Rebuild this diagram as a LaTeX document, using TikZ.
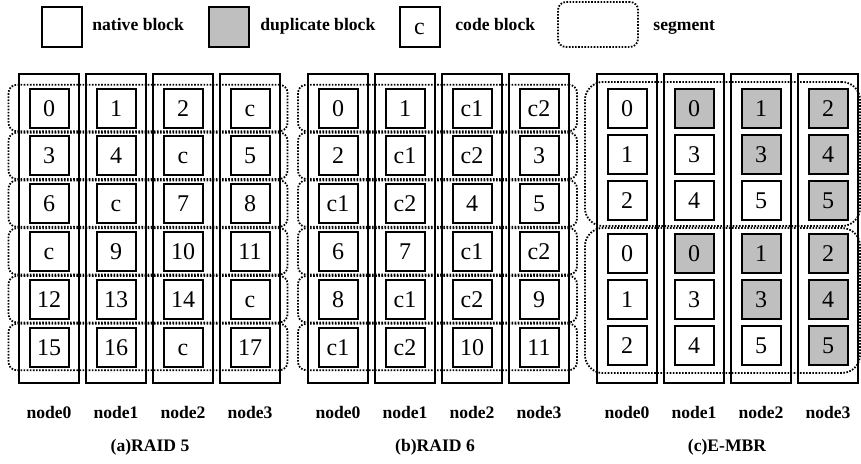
\documentclass[tikz,border=0pt]{standalone}
\usepackage{fontspec}
\setmainfont{Liberation Serif}
\usepackage{tikz}
\usetikzlibrary{positioning}

\tikzset{
  blk/.style={draw, line width=1pt, minimum size=19.5pt, inner sep=0pt, text height=8pt, text depth=0pt, font=\fontsize{12}{14}\selectfont},
  native/.style={blk},
  dup/.style={blk, fill=gray!50},
  disk/.style={draw, line width=1pt, minimum width=30pt, minimum height=154.5pt, inner sep=0pt},
  seg/.style={draw, line width=0.9pt, dash pattern=on 0.8pt off 0.75pt, rounded corners=4pt, inner sep=0pt},
  lbl/.style={font=\bfseries\fontsize{8.8}{10}\selectfont, inner sep=1pt},
}

\begin{document}
\begin{tikzpicture}[x=0.5pt, y=-0.5pt]
            \useasboundingbox (0,0) rectangle (861,463);

            % legend
            \node[native, minimum size=20pt] (leg-nat) at (62,26.5) {};
            \node[lbl, anchor=base west] (leg-nat-txt) at (90,30) {native block};
            \node[dup, minimum size=20pt] (leg-dup) at (228.5,26.5) {};
            \node[lbl, anchor=base west] (leg-dup-txt) at (258,30) {duplicate block};
            \node[native, minimum size=20pt] (leg-code) at (419.5,26.5) {c};
            \node[lbl, anchor=base west] (leg-code-txt) at (453,30) {code block};
            \node[seg, minimum width=40pt, minimum height=22.5pt] (leg-seg) at (598,24.5) {};
            \node[lbl, anchor=base west] (leg-seg-txt) at (651,30) {segment};

            % (a) RAID 5
            \foreach \col in {0,...,3}
              \node[disk] (a-disk\col) at (49+67*\col,228.5) {};
            \foreach \rw in {0,...,5}
              \node[seg, minimum width=139.5pt, minimum height=23.2pt] (a-seg\rw) at (148,108+47.8*\rw) {};
            \foreach \row [count=\rw from 0] in {{0,1,2,c},{3,4,c,5},{6,c,7,8},{c,9,10,11},{12,13,14,c},{15,16,c,17}}
              \foreach \lab [count=\col from 0] in \row
                \node[native] (a-\rw-\col) at (49+67*\col,108+47.8*\rw) {\lab};
            \foreach \col in {0,...,3}
              \node[lbl] (a-name\col) at (49+67*\col,412) {node\col};
            \node[lbl] (a-cap) at (150,447) {(a)RAID 5};

            % (b) RAID 6
            \foreach \col in {0,...,3}
              \node[disk] (b-disk\col) at (338+67*\col,228.5) {};
            \foreach \rw in {0,...,5}
              \node[seg, minimum width=139.5pt, minimum height=23.2pt] (b-seg\rw) at (437.5,108+47.8*\rw) {};
            \foreach \row [count=\rw from 0] in {{0,1,c1,c2},{2,c1,c2,3},{c1,c2,4,5},{6,7,c1,c2},{8,c1,c2,9},{c1,c2,10,11}}
              \foreach \lab [count=\col from 0] in \row
                \node[native] (b-\rw-\col) at (338+67*\col,108+47.8*\rw) {\lab};
            \foreach \col in {0,...,3}
              \node[lbl] (b-name\col) at (338+67*\col,412) {node\col};
            \node[lbl] (b-cap) at (435,447) {(b)RAID 6};

            % (c) E-MBR
            \foreach \col in {0,...,3}
              \node[disk] (c-disk\col) at (627+67*\col,228.5) {};
            \node[seg, rounded corners=9pt, minimum width=137.5pt, minimum height=72pt] (c-seg0) at (722.5,154) {};
            \node[seg, rounded corners=9pt, minimum width=137.5pt, minimum height=72.5pt] (c-seg1) at (722.5,300.5) {};
            \foreach \s in {0,1}
              \foreach \row [count=\rw from 0] in {{0/native,0/dup,1/dup,2/dup},{1/native,3/native,3/dup,4/dup},{2/native,4/native,5/native,5/dup}}
                \foreach \lab/\kind [count=\col from 0] in \row
                  \node[\kind] (c-\s-\rw-\col) at (627+67*\col,108+46*\rw+145.5*\s) {\lab};
            \foreach \col in {0,...,3}
              \node[lbl] (c-name\col) at (627+67*\col,412) {node\col};
            \node[lbl] (c-cap) at (727,447) {(c)E-MBR};

\end{tikzpicture}
\end{document}
